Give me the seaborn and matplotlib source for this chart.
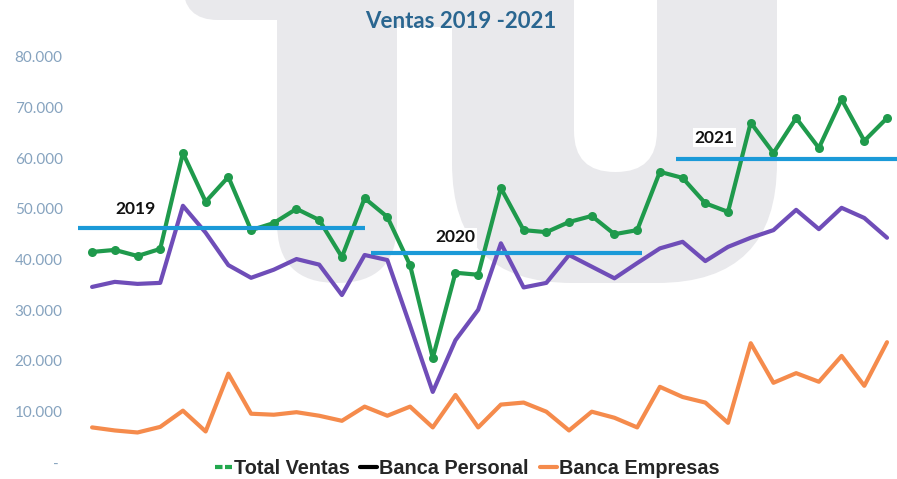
import numpy as np
import pandas as pd
import matplotlib.pyplot as plt
import seaborn as sns
from matplotlib.patches import FancyBboxPatch, Rectangle
from matplotlib.lines import Line2D
from matplotlib.ticker import FuncFormatter

# Datos mensuales (ene 2019 - dic 2021)
total_ventas = [41500, 41900, 40700, 42100, 61000, 51400, 56300, 45800, 47200, 50000, 47800, 40500,
                52100, 48400, 38900, 20600, 37400, 37000, 54100, 45800, 45400, 47400, 48600, 45000,
                45800, 57300, 56100, 51100, 49400, 67000, 61000, 67900, 62000, 71600, 63400, 67900]
banca_personal = [34600, 35600, 35200, 35400, 50600, 45300, 38900, 36400, 38000, 40100, 39000, 33000,
                  40900, 39900, 27000, 13900, 24100, 30100, 43200, 34500, 35400, 40900, 38600, 36300,
                  39300, 42200, 43500, 39700, 42500, 44300, 45800, 49800, 46000, 50200, 48200, 44300]
banca_empresas = [6900, 6300, 5900, 7000, 10200, 6100, 17500, 9600, 9400, 9900, 9200, 8200,
                  11000, 9200, 11000, 6900, 13300, 6900, 11400, 11800, 10000, 6300, 10000, 8800,
                  6900, 14900, 12900, 11800, 7800, 23500, 15700, 17600, 15900, 21000, 15100, 23700]

# Promedio anual (lineas azules)
anios = ['2019', '2020', '2021']
promedios = [46200, 41200, 59900]

meses = list(range(len(total_ventas)))
df = pd.DataFrame({'mes': meses,
                   'Total Ventas': total_ventas,
                   'Banca Personal': banca_personal,
                   'Banca Empresas': banca_empresas})

# Tramos de las lineas de promedio y posicion de las etiquetas (en indice de mes)
tramos = [(-0.7, 12.0), (12.3, 24.2), (25.7, 36.5)]
etiqueta_x = [1.9, 16.0, 27.4]
etiqueta_dy = [19, 16, 21]

verde = '#1f9a4c'
morado = '#6f4db8'
naranja = '#f58b4c'
azul = '#1b9ad8'

sns.set_style("white")
plt.rcParams['font.family'] = ['Lato', 'DejaVu Sans']

fig = plt.figure(figsize=(8.97, 4.79), dpi=100)

# Marca de agua gris de fondo (coordenadas en pixeles)
bg = fig.add_axes([0, 0, 1, 1], zorder=0)
bg.set_xlim(0, 897)
bg.set_ylim(479, 0)
bg.axis('off')
gris = '#e9e9ec'
bg.add_patch(FancyBboxPatch((183, -80), 160, 100, boxstyle='round,pad=0,rounding_size=35',
                            fc=gris, ec='none'))
bg.add_patch(FancyBboxPatch((277, -100), 120, 383, boxstyle='round,pad=0,rounding_size=60',
                            fc=gris, ec='none'))
bg.add_patch(Rectangle((300, -10), 300, 37, fc=gris, ec='none'))
bg.add_patch(FancyBboxPatch((452, -200), 325, 483, boxstyle='round,pad=0,rounding_size=120',
                            fc=gris, ec='none'))
bg.add_patch(FancyBboxPatch((574, -200), 83, 372, boxstyle='round,pad=0,rounding_size=41',
                            fc='white', ec='none'))

# Grafico principal
ax = fig.add_axes([78 / 897, 16.6 / 479, 819 / 897, 405.7 / 479], zorder=1)
ax.patch.set_alpha(0)

sns.lineplot(data=df, x='mes', y='Banca Empresas', color=naranja, lw=3, ax=ax)
sns.lineplot(data=df, x='mes', y='Banca Personal', color=morado, lw=3, ax=ax)
sns.lineplot(data=df, x='mes', y='Total Ventas', color=verde, lw=3, marker='o',
             markersize=6.5, markeredgewidth=0, ax=ax)

for i, anio in enumerate(anios):
    ax.hlines(promedios[i], tramos[i][0], tramos[i][1], color=azul, lw=3, zorder=5)
    ax.annotate(anio, xy=(etiqueta_x[i], promedios[i]), xytext=(0, etiqueta_dy[i]),
                textcoords='offset pixels', ha='center', va='center', fontsize=12.5,
                fontweight='bold', color='#111111', zorder=6,
                bbox=dict(boxstyle='square,pad=0.1', fc='white', ec='none'))

ax.set_xlim(-0.62, 35.44)
ax.set_ylim(0, 80000)
ax.set_xticks([])
ax.set_yticks(range(0, 80001, 10000))
ax.yaxis.set_major_formatter(FuncFormatter(
    lambda v, p: '- ' if v == 0 else f'{v:,.0f}'.replace(',', '.')))
ax.tick_params(axis='y', length=0, pad=11, labelsize=11, labelcolor='#86a3bf')
ax.set_xlabel('')
ax.set_ylabel('')
sns.despine(ax=ax, left=True, bottom=True)

fig.text(461 / 897, 1 - 22 / 479, 'Ventas 2019 -2021', ha='center', va='center',
         fontsize=16, fontweight='bold', color='#2a6690')

# Leyenda inferior
handles = [Line2D([], [], color='#22a84e', lw=3, ls=(0, (1.8, 0.6))),
           Line2D([], [], color='black', lw=3),
           Line2D([], [], color=naranja, lw=3)]
fig.legend(handles, ['Total Ventas', 'Banca Personal', 'Banca Empresas'],
           loc='center', bbox_to_anchor=(467 / 897, 1 - 468 / 479), ncol=3, frameon=False,
           prop={'family': 'Liberation Sans', 'weight': 'bold', 'size': 14.3},
           handlelength=0.85, handletextpad=0.1, columnspacing=0.55,
           borderpad=0, borderaxespad=0)

fig.savefig('out.png', dpi=100)
